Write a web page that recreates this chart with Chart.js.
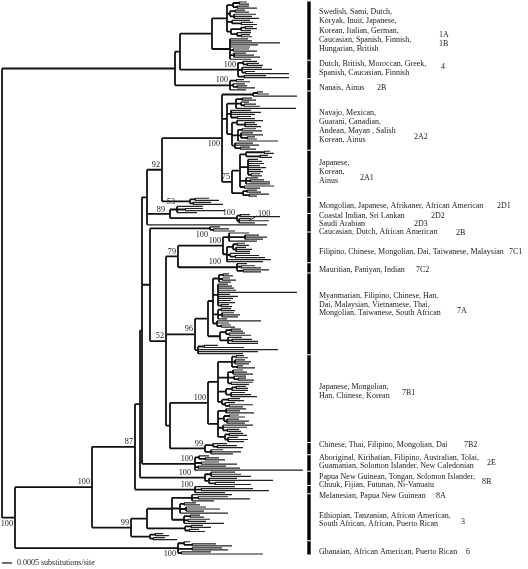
<!DOCTYPE html>
<html>
<head>
<meta charset="utf-8">
<script src="https://cdn.jsdelivr.net/npm/chart.js@4.4.1/dist/chart.umd.min.js"></script>
<style>
  html, body { margin: 0; padding: 0; background: #fff; }
  #wrap { width: 528px; height: 569px; position: relative; }
</style>
</head>
<body>
<div id="wrap"><canvas id="tree"></canvas></div>
<script>
// branch lengths are in units of 0.00005 substitutions/site
const UNIT = 0.00005;
const scaleBar = [0.0005];

// clade subtrees (newick, crown node first)
const clades = {
  c1A1B: "((((:8,:10):6,(:12,:20):4):6,((:10,:14):5,(:22,:18,:25):4):3,(:18,(:12,:16):9):5,(((:8,:12):4,:10):10,(:14,(:9,:11):4):6):4):15,(:18,:22,:50,:28,:20,(:16,:24):3,(:12,:20,:26):4,:21):18)",
  c4: "((:14,(:12,:16):4):5,(:20,:30,(:10,:44):3):4,(:22,:45):6)",
  c2BN: "((:8,:14):6,(:12,(:10,:18):4):3,:16)",
  t2A: "((:6,:12):4,:44)",
  c2A2: "(((:10,:14):6,(:8,(:12,:16):3):5,:60):9,(:20,:30,:24,(:14,:18):6):4,((:26,(:10,:12,:16):8):5,((:14,:20):4,(:12,:22,(:8,:10):6):3,:40):6,(:18,:24,(:10,:16):5):3):5)",
  c2A1: "((((:6,:10):18,(:8,:12):14):6,(:10,:14,:16,:12,:18,:13,:15,(:9,:11):3):8,(:12,(:14,:20):4,:24):6,(:30,:16):4):8,((:10,:14):4,(:20,:8):6):11)",
  c2D1a: "((:14,:24):5,(:18,:30):3)",
  c2D1b: "(:26,(:18,:40):8,:20)",
  c2D2: "((:10,:40):3,(:12,:30,:16)c2D3:2)",
  c2B2: "(:10,(:16,:22):3)",
  c7C1: "((:20,(:14,:22,:18):16,:28):6,(((:8,:12):4,(:10,:16,:14):3):6,(:20,(:24,:30):5):3,:44,:36):4)",
  c7C2: "(:10,(:14,:20):4,(:26,:18):6)",
  c7A: "(((((:6,:10):4,(:8,:14):3,:12):6,(:10,:14,:16,:18,:79,:12,:20,:15,:13,:17,(:8,:11):3):5,((:10,:14):3,(:12,:18,:16):4,:9):5,(:44,:12,(:10,:14):4):4):5,(((:10,:12):5,(:16,:22):3):6,(:14,(:20,:26):4,:30):8):12):13,((:14,:40):6,:80,:60,:45):3)",
  c7B1: "((((:8,:12):4,(:10,:16,:14):3,(:6,:18):5):14,((:10,:14,:20):5,(:12,(:8,:16):4):6,(:22,:18):3):10,(((:10,:12):4,:16):6,(:14,:20,:26):5):8,((:12,:16):6,(:10,(:24,:14):4):3):4):10,((:20,:14,:28):8,((:10,:16):5,(:12,:22,:18):3):6,(:30,:24,(:12,:14):4):5,((:14,:18):4,(:10,:20,:16):3):7):10)",
  c7B2: "((:14,(:20,:26):4):8,(:12,:30,:22):6)",
  c2E: "((:10,(:14,:20):6):4,(:18,:36):6,(:28,:42):3,:108)",
  c8B: "((:24,:30,:40):6,(:28,:64,(:20,:36):6):4)",
  c8A: "(:40,(:52,:68):6,:30)",
  c3: "((((:40,(:30,:52):6,:22):20,((:12,:16):4,(:20,:34,:18):6,:48):8,((:10,:14):6,(:22,:18):4,:40):12):25,((:12,:20):6,(:10,:16):4):38):16,((:8,:14):5,(:12,:24):3):19)",
  c6: "((:6,(:24,:40):8):6,(:30,:36):14,(:30,:82):3)"
};

// backbone joining the clades
const backbone = "(((@c1A1B:32,@c4:58)n180:5,@c2BN:55)nEur:173,((((((((@t2A:31,@c2A2:5,@c2A1:10)c2A:60,@c2D1a:28)n162:15,(@c2D1b:7,@c2D2:67)n170:23,s2D3:120)n147:5,(@c2B2:60,((@c7C1:45,@c7C2:59)n178:12,@c7A:29,(@c7B1:38,@c7B2:35)n170b:4)n166:16)n150:8,@c2E:53)n142:2,@c8B:65)n140:5,@c8A:60)n135:43,@c3:39)n92:77,@c6:163)n15:13)root";

// bootstrap values
const supportNodes  = ['n15','n92','c3','n135','c8A','c8B','c2E','n166','c7A','c7B1','c7B2','n178','c7C1','c7C2','c2B2','n170','c2D1b','c2D2','c2D3','n162','c2A','c2A1','c4','c2BN','c6'];
const supportValues = [100, 100, 99, 87, 100, 100, 100, 52, 96, 100, 99, 79, 100, 100, 100, 89, 53, 100, 100, 92, 100, 75, 100, 100, 100];

// haplogroup labels
const groupIds = [['c1A1B'],['c4'],['c2BN'],['t2A','c2A2'],['c2A1'],['c2D1a','c2D1b'],['c2D2'],['s2D3'],['c2B2'],['c7C1'],['c7C2'],['c7A'],['c7B1'],['c7B2'],['c2E'],['c8B'],['c8A'],['c3'],['c6']];
const groupNames = [
  ['Swedish, Sami, Dutch,','Koryak, Inuit, Japanese,','Korean, Italian, German,','Caucasian, Spanish, Finnish,','Hungarian, British'],
  ['Dutch, British, Moroccan, Greek,','Spanish, Caucasian, Finnish'],
  ['Nanais, Ainus'],
  ['Navajo, Mexican,','Guarani, Canadian,','Andean, Mayan , Salish','Korean, Ainus'],
  ['Japanese,','Korean,','Ainus'],
  ['Mongolian, Japanese, Afrikaner, African American'],
  ['Coastal Indian, Sri Lankan'],
  ['Saudi Arabian'],
  ['Caucasian, Dutch, African American'],
  ['Filipino, Chinese, Mongolian, Dai, Taiwanese, Malaysian'],
  ['Mauritian, Paniyan, Indian'],
  ['Myanmarian, Filipino, Chinese, Han,','Dai, Malaysian, Vietnamese, Thai,','Mongolian, Taiwanese, South African'],
  ['Japanese, Mongolian,','Han, Chinese, Korean'],
  ['Chinese, Thai, Filipino, Mongolian, Dai'],
  ['Aboriginal, Kiribatian, Filipino, Australian, Tolai,','Guamanian, Solomon Islander, New Caledonian'],
  ['Papua New Guinean, Tongan, Solomon Islander,','Chuuk, Fijian, Futunan, Ni-Vanuatu'],
  ['Melanesian, Papua New Guinean'],
  ['Ethiopian, Tanzanian, African American,','South African, African, Puerto Rican'],
  ['Ghanaian, African American, Puerto Rican']
];
const groupCodes = [['1A','1B'],['4'],['2B'],['2A2'],['2A1'],['2D1'],['2D2'],['2D3'],['2B'],['7C1'],['7C2'],['7A'],['7B1'],['7B2'],['2E'],['8B'],['8A'],['3'],['6']];

// label layout
const textDy  = [0, -1, 3, 6, -2, 0, -3, -1, 3, 5, 2, -9, -7, -4, -1, 3, 6, 3, 4];
const lineGap = [9.25, 9, 9, 9, 9, 9, 9, 9, 9, 9, 9, 8.5, 9, 9, 8, 8, 9, 8, 9];
const codeX   = [437, 439, 375, 412, 358, 495, 429, 412, 454, 507, 414, 455, 400, 462, 485, 480, 434, 459, 464];
const codeDy  = [4.5, -1.5, 0, 10.5, 6, 0, 0, 0, 1, 0, 0, 6.5, 1.5, 0, 1, 1, 0, 2, 0];
const labelsBelow = ['n15', 'c6', 'c2A', 'c2B2'];
const labelDx = { c7C2: -14, c8B: -12, n170: -3 };
const labelDy = { c2D1b: -3, n170: 1 };

function parseNewick(s) {
  let i = 0;
  function node() {
    const n = { children: [], name: '', len: 0 };
    if (s[i] === '(') {
      i++;
      do { n.children.push(node()); } while (s[i++] === ',');
    }
    while (i < s.length && !',():;'.includes(s[i])) n.name += s[i++];
    if (s[i] === ':') {
      i++;
      let num = '';
      while (i < s.length && !',();'.includes(s[i])) num += s[i++];
      n.len = parseFloat(num);
    }
    return n;
  }
  return node();
}

const root = parseNewick(backbone.replace(/@(\w+)/g, (m, id) => clades[id] + id));
const byName = {};
let rows = 0;
(function place(n, x0) {
  n.x = x0 + n.len;
  if (n.name) byName[n.name] = n;
  if (!n.children.length) { n.y = rows++; n.lo = n.hi = n.y; return; }
  n.children.forEach(c => place(c, n.x));
  const f = n.children[0], l = n.children[n.children.length - 1];
  n.y = (f.y + l.y) / 2;
  n.lo = f.lo; n.hi = l.hi;
})(root, 0);

const gap = { x: NaN, y: NaN };
const inner = [], tips = [];
(function edges(n, parent) {
  const out = n.children.length ? inner : tips;
  if (parent) out.push({ x: parent.x, y: n.y }, { x: n.x, y: n.y }, gap);
  if (n.children.length) {
    inner.push({ x: n.x, y: n.children[0].y }, { x: n.x, y: n.children[n.children.length - 1].y }, gap);
    n.children.forEach(c => edges(c, n));
  }
})(root, null);

const groupSpan = ids => [Math.min(...ids.map(id => byName[id].lo)), Math.max(...ids.map(id => byName[id].hi))];
const bars = [];
groupIds.forEach(ids => {
  const [lo, hi] = groupSpan(ids);
  const mid = (lo + hi) / 2, half = Math.max((hi - lo) / 2 + 0.25, 0.75);
  bars.push({ x: 307, y: mid - half }, { x: 307, y: mid + half }, gap);
});

const rowPx = 552 / (rows - 1);
const yMin = -2 / rowPx, yMax = yMin + 569 / rowPx;
const yBar = rows - 1 + 4.4;
const scaleLine = [{ x: 0, y: yBar }, { x: scaleBar[0] / UNIT, y: yBar }];

const serif = '"Liberation Serif", "Times New Roman", serif';
const textPlugin = {
  id: 'treeText',
  afterDatasetsDraw(chart) {
    const { ctx, scales: { x, y } } = chart;
    ctx.save();
    ctx.fillStyle = '#1a1a1a';
    ctx.strokeStyle = '#1a1a1a';
    ctx.lineWidth = 1;
    ctx.textBaseline = 'middle';

    ctx.font = '8.2px ' + serif;
    supportNodes.forEach((id, k) => {
      const n = byName[id];
      const px = x.getPixelForValue(n.x), py = y.getPixelForValue(n.y);
      if (id === 'c2D3') {
        ctx.beginPath();
        ctx.moveTo(px + 10, py);
        ctx.lineTo(px + 18, py - 5);
        ctx.stroke();
        ctx.textAlign = 'left';
        ctx.fillText(String(supportValues[k]), px + 19, py - 7);
        return;
      }
      ctx.textAlign = 'right';
      const dy = (labelsBelow.includes(id) ? 6 : -5) + (labelDy[id] || 0);
      ctx.fillText(String(supportValues[k]), px - 2 + (labelDx[id] || 0), py + dy);
    });

    ctx.font = '8px ' + serif;
    ctx.textAlign = 'left';
    groupIds.forEach((ids, k) => {
      const [lo, hi] = groupSpan(ids);
      const cy = y.getPixelForValue((lo + hi) / 2) + textDy[k];
      const lines = groupNames[k];
      lines.forEach((t, j) => ctx.fillText(t, x.getPixelForValue(317), cy + (j - (lines.length - 1) / 2) * lineGap[k]));
      groupCodes[k].forEach((c, j) => ctx.fillText(c, x.getPixelForValue(codeX[k]), cy + codeDy[k] + j * 9));
    });

    ctx.fillText(scaleBar[0] + ' substitutions/site', x.getPixelForValue(15), y.getPixelForValue(yBar));
    ctx.restore();
  }
};

new Chart(document.getElementById('tree'), {
  type: 'scatter',
  data: {
    datasets: [
      { data: inner, showLine: true, borderColor: '#111', borderWidth: 1.8, pointRadius: 0 },
      { data: tips, showLine: true, borderColor: '#222', borderWidth: 1.2, pointRadius: 0 },
      { data: bars, showLine: true, borderColor: '#000', borderWidth: 3.4, pointRadius: 0 },
      { data: scaleLine, showLine: true, borderColor: '#111', borderWidth: 1.2, pointRadius: 0 }
    ]
  },
  options: {
    responsive: true,
    maintainAspectRatio: false,
    animation: false,
    events: [],
    layout: { padding: 0, autoPadding: false },
    plugins: { legend: { display: false }, tooltip: { enabled: false } },
    scales: {
      x: { type: 'linear', display: false, min: -2, max: 526 },
      y: { type: 'linear', display: false, reverse: true, min: yMin, max: yMax }
    }
  },
  plugins: [textPlugin]
});
</script>
</body>
</html>
